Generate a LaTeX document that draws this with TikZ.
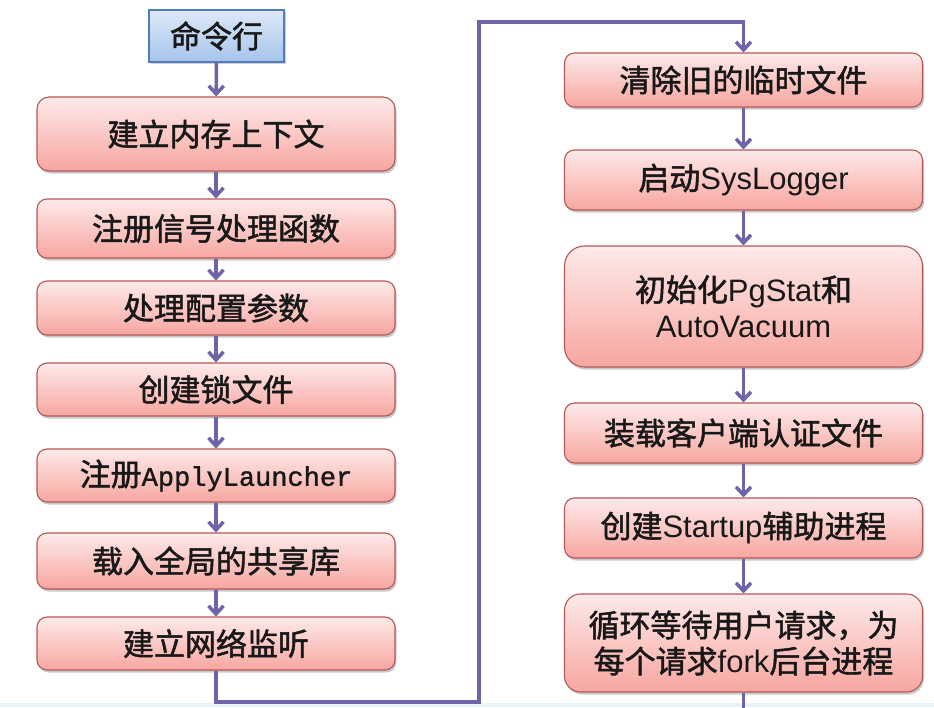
\documentclass[tikz,border=0pt]{standalone}
\usepackage{fontspec}
\setmainfont{Liberation Sans}
\newfontfamily\cjk[RawFeature={embolden=1.6}]{Noto Sans CJK SC}
\newfontfamily\monof[RawFeature={embolden=1.2}]{Liberation Mono}
\usetikzlibrary{arrows.meta,shadows}
\definecolor{linec}{RGB}{112,100,168}
\definecolor{boxtop}{RGB}{253,234,234}
\definecolor{boxbot}{RGB}{247,166,160}
\definecolor{boxline}{RGB}{180,88,86}
\definecolor{bluetop}{RGB}{222,233,248}
\definecolor{bluebot}{RGB}{166,196,236}
\definecolor{blueline}{RGB}{82,122,190}
\definecolor{txt}{RGB}{24,24,24}
\definecolor{bandc}{RGB}{228,242,251}
\tikzset{
  pinkbox/.style={draw=boxline, line width=1.1pt, top color=boxtop, bottom color=boxbot,
    rounded corners=10pt, minimum width=358pt, text=txt, align=center, inner sep=2pt,
    font=\fontsize{31}{36}\selectfont,
    drop shadow={shadow xshift=1.5pt, shadow yshift=-2.5pt, opacity=0.35, fill=black!60}},
  bluebox/.style={draw=blueline, line width=1.5pt, top color=bluetop, bottom color=bluebot,
    minimum width=135pt, minimum height=52pt, text=txt, inner sep=2pt,
    font=\fontsize{31}{36}\selectfont,
    drop shadow={shadow xshift=1.5pt, shadow yshift=-2pt, opacity=0.3, fill=black!60}},
  flow/.style={draw=linec, line width=3.5pt},
  arr/.style={flow, -{Straight Barb[length=8pt,width=15pt]}}
}
\begin{document}
\begin{tikzpicture}[x=1pt,y=-1pt]
\useasboundingbox (0,0) rectangle (934,707);
\fill[white] (0,0) rectangle (934,707);
\fill[bandc] (0,703) rectangle (934,707);

% left column
\node[bluebox] (cmd) at (216.5,36) {\cjk 命令行};
\node[pinkbox, minimum height=74pt, rounded corners=12pt] (b1) at (216,134) {\cjk 建立内存上下文};
\node[pinkbox, minimum height=59pt] (b2) at (216,228.5) {\cjk 注册信号处理函数};
\node[pinkbox, minimum height=54pt] (b3) at (216,308) {\cjk 处理配置参数};
\node[pinkbox, minimum height=53pt] (b4) at (216,389.5) {\cjk 创建锁文件};
\node[pinkbox, minimum height=53pt] (b5) at (216,475.5) {{\cjk 注册}{\monof\fontsize{27}{30}\selectfont ApplyLauncher}};
\node[pinkbox, minimum height=56pt] (b6) at (216,561) {\cjk 载入全局的共享库};
\node[pinkbox, minimum height=53pt] (b7) at (216,643.5) {\cjk 建立网络监听};

% right column
\node[pinkbox, minimum height=54pt] (r1) at (743.5,80) {\cjk 清除旧的临时文件};
\node[pinkbox, minimum height=60pt] (r2) at (743.5,180) {{\cjk 启动}SysLogger};
\node[pinkbox, minimum height=121pt, rounded corners=20pt] (r3) at (743.5,306.5) {{\cjk 初始化}PgStat{\cjk 和}\\AutoVacuum};
\node[pinkbox, minimum height=60pt] (r4) at (743.5,433) {\cjk 装载客户端认证文件};
\node[pinkbox, minimum height=60pt] (r5) at (743.5,528) {{\cjk 创建}Startup{\cjk 辅助进程}};
\node[pinkbox, minimum height=98pt, rounded corners=16pt] (r6) at (743.5,643) {{\cjk 循环等待用户请求，为}\\{\cjk 每个请求}fork{\cjk 后台进程}};

% connectors
\draw[arr] (cmd) -- (b1);
\draw[arr] (b1) -- (b2);
\draw[arr] (b2) -- (b3);
\draw[arr] (b3) -- (b4);
\draw[arr] (b4) -- (b5);
\draw[arr] (b5) -- (b6);
\draw[arr] (b6) -- (b7);

\coordinate (c1) at (479,702);
\coordinate (c2) at (479,22);
\draw[arr] (b7.south) |- (c1) -- (c2) -| (r1.north);

\draw[arr] (r1) -- (r2);
\draw[arr] (r2) -- (r3);
\draw[arr] (r3) -- (r4);
\draw[arr] (r4) -- (r5);
\draw[arr] (r5) -- (r6);

\coordinate (fend) at (743.5,712);
\draw[flow] (r6.south) -- (r6.south |- fend);
\end{tikzpicture}
\end{document}
